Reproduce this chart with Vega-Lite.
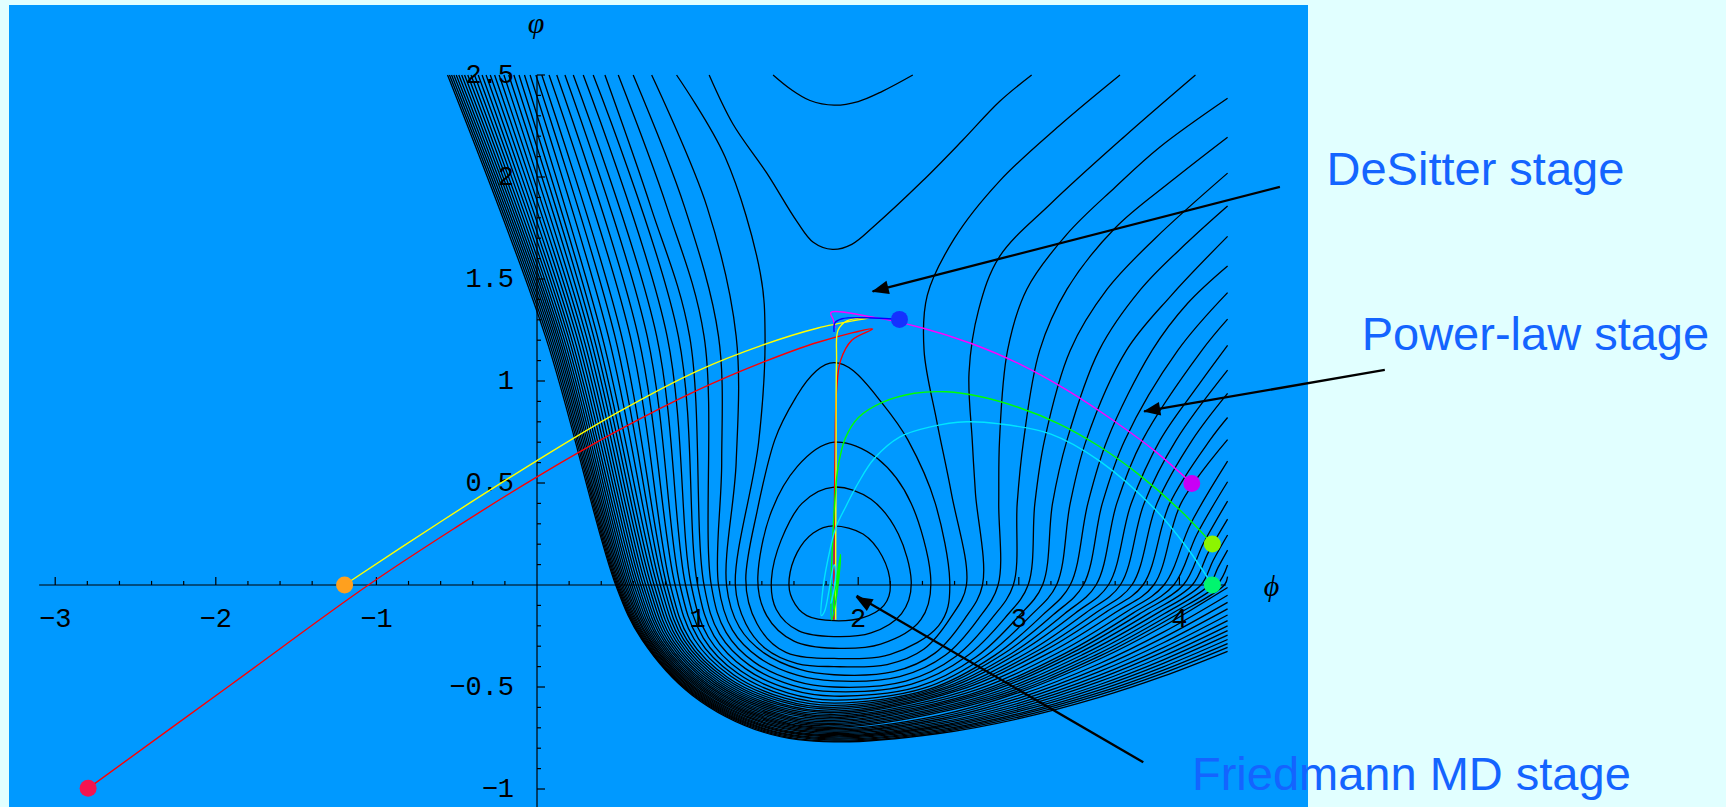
{
"$schema":"https://vega.github.io/schema/vega-lite/v6.json",
"autosize":{"type":"none"},
"padding":{"left":9,"top":5,"right":418,"bottom":0},
"width":1299,"height":802,
"background":"#e1ffff",
"config":{"view":{"stroke":null,"fill":"#0099ff"}},
"datasets":{
"w":[
{"g":1,"i":0,"x":0.869,"y":2.5},{"g":1,"i":1,"x":1.17,"y":2.1},{"g":1,"i":2,"x":1.39,"y":1.53},{"g":1,"i":3,"x":1.42,"y":1.22},{"g":1,"i":4,"x":1.38,"y":0.7},{"g":1,"i":5,"x":1.235,"y":0},{"g":1,"i":6,"x":1.3,"y":-0.19},{"g":1,"i":7,"x":1.42,"y":-0.31},{"g":1,"i":8,"x":1.62,"y":-0.385},{"g":1,"i":9,"x":1.85,"y":-0.4},{"g":1,"i":10,"x":2.18,"y":-0.39},{"g":1,"i":11,"x":2.41,"y":-0.314},{"g":1,"i":12,"x":2.575,"y":-0.16},{"g":1,"i":13,"x":2.674,"y":0},{"g":1,"i":14,"x":2.58,"y":0.45},{"g":1,"i":15,"x":2.49,"y":0.8},{"g":1,"i":16,"x":2.41,"y":1.15},{"g":1,"i":17,"x":2.43,"y":1.42},{"g":1,"i":18,"x":2.6,"y":1.7},{"g":1,"i":19,"x":2.88,"y":1.98},{"g":1,"i":20,"x":3.25,"y":2.25},{"g":1,"i":21,"x":3.63,"y":2.5},
{"g":2,"i":0,"x":0.714,"y":2.5},{"g":2,"i":1,"x":1.06,"y":1.85},{"g":2,"i":2,"x":1.24,"y":1.22},{"g":2,"i":3,"x":1.24,"y":0.6},{"g":2,"i":4,"x":1.18,"y":0},{"g":2,"i":5,"x":1.26,"y":-0.207},{"g":2,"i":6,"x":1.415,"y":-0.334},{"g":2,"i":7,"x":1.636,"y":-0.414},{"g":2,"i":8,"x":1.85,"y":-0.44},{"g":2,"i":9,"x":2.22,"y":-0.425},{"g":2,"i":10,"x":2.478,"y":-0.334},{"g":2,"i":11,"x":2.663,"y":-0.166},{"g":2,"i":12,"x":2.774,"y":0},{"g":2,"i":13,"x":2.73,"y":0.45},{"g":2,"i":14,"x":2.71,"y":0.71},{"g":2,"i":15,"x":2.69,"y":1.04},{"g":2,"i":16,"x":2.75,"y":1.35},{"g":2,"i":17,"x":2.88,"y":1.61},{"g":2,"i":18,"x":3.2,"y":1.87},{"g":2,"i":19,"x":3.66,"y":2.2},{"g":2,"i":20,"x":4.1,"y":2.5},
{"g":3,"i":0,"x":0.599,"y":2.5},{"g":3,"i":1,"x":0.92,"y":1.85},{"g":3,"i":2,"x":1.13,"y":1.22},{"g":3,"i":3,"x":1.15,"y":0.6},{"g":3,"i":4,"x":1.13,"y":0},{"g":3,"i":5,"x":1.216,"y":-0.22},{"g":3,"i":6,"x":1.382,"y":-0.356},{"g":3,"i":7,"x":1.62,"y":-0.442},{"g":3,"i":8,"x":1.85,"y":-0.47},{"g":3,"i":9,"x":2.258,"y":-0.449},{"g":3,"i":10,"x":2.544,"y":-0.343},{"g":3,"i":11,"x":2.748,"y":-0.166},{"g":3,"i":12,"x":2.871,"y":0},{"g":3,"i":13,"x":2.875,"y":0.4},{"g":3,"i":14,"x":2.88,"y":0.71},{"g":3,"i":15,"x":2.93,"y":1.15},{"g":3,"i":16,"x":3.05,"y":1.45},{"g":3,"i":17,"x":3.3,"y":1.72},{"g":3,"i":18,"x":3.6,"y":1.95},{"g":3,"i":19,"x":3.877,"y":2.146},{"g":3,"i":20,"x":4.3,"y":2.386},
{"g":4,"i":0,"x":0.506,"y":2.5},{"g":4,"i":1,"x":0.81,"y":1.85},{"g":4,"i":2,"x":1.04,"y":1.22},{"g":4,"i":3,"x":1.085,"y":0},{"g":4,"i":4,"x":1.177,"y":-0.232},{"g":4,"i":5,"x":1.353,"y":-0.378},{"g":4,"i":6,"x":1.605,"y":-0.47},{"g":4,"i":7,"x":1.85,"y":-0.5},{"g":4,"i":8,"x":2.296,"y":-0.471},{"g":4,"i":9,"x":2.609,"y":-0.349},{"g":4,"i":10,"x":2.832,"y":-0.164},{"g":4,"i":11,"x":2.966,"y":0},{"g":4,"i":12,"x":2.99,"y":0.4},{"g":4,"i":13,"x":3.03,"y":0.71},{"g":4,"i":14,"x":3.13,"y":1.15},{"g":4,"i":15,"x":3.3,"y":1.45},{"g":4,"i":16,"x":3.6,"y":1.75},{"g":4,"i":17,"x":3.95,"y":1.98},{"g":4,"i":18,"x":4.3,"y":2.195},
{"g":5,"i":0,"x":0.423,"y":2.5},{"g":5,"i":1,"x":0.71,"y":1.85},{"g":5,"i":2,"x":0.95,"y":1.22},{"g":5,"i":3,"x":1.04,"y":0},{"g":5,"i":4,"x":1.137,"y":-0.241},{"g":5,"i":5,"x":1.324,"y":-0.394},{"g":5,"i":6,"x":1.591,"y":-0.492},{"g":5,"i":7,"x":1.85,"y":-0.523},{"g":5,"i":8,"x":2.333,"y":-0.486},{"g":5,"i":9,"x":2.671,"y":-0.352},{"g":5,"i":10,"x":2.913,"y":-0.162},{"g":5,"i":11,"x":3.058,"y":0},{"g":5,"i":12,"x":3.1,"y":0.4},{"g":5,"i":13,"x":3.16,"y":0.71},{"g":5,"i":14,"x":3.32,"y":1.15},{"g":5,"i":15,"x":3.55,"y":1.45},{"g":5,"i":16,"x":3.85,"y":1.7},{"g":5,"i":17,"x":4.3,"y":2.019},
{"g":6,"i":0,"x":0.35,"y":2.5},{"g":6,"i":1,"x":0.88,"y":1.22},{"g":6,"i":2,"x":1.0,"y":0},{"g":6,"i":3,"x":1.102,"y":-0.249},{"g":6,"i":4,"x":1.298,"y":-0.41},{"g":6,"i":5,"x":1.578,"y":-0.512},{"g":6,"i":6,"x":1.85,"y":-0.545},{"g":6,"i":7,"x":2.369,"y":-0.499},{"g":6,"i":8,"x":2.733,"y":-0.353},{"g":6,"i":9,"x":2.992,"y":-0.159},{"g":6,"i":10,"x":3.148,"y":0},{"g":6,"i":11,"x":3.21,"y":0.4},{"g":6,"i":12,"x":3.3,"y":0.71},{"g":6,"i":13,"x":3.5,"y":1.15},{"g":6,"i":14,"x":3.76,"y":1.45},{"g":6,"i":15,"x":4.05,"y":1.68},{"g":6,"i":16,"x":4.3,"y":1.858},
{"g":7,"i":0,"x":0.288,"y":2.5},{"g":7,"i":1,"x":0.81,"y":1.22},{"g":7,"i":2,"x":0.96,"y":0},{"g":7,"i":3,"x":1.067,"y":-0.256},{"g":7,"i":4,"x":1.272,"y":-0.423},{"g":7,"i":5,"x":1.565,"y":-0.53},{"g":7,"i":6,"x":1.85,"y":-0.564},{"g":7,"i":7,"x":2.404,"y":-0.507},{"g":7,"i":8,"x":2.792,"y":-0.349},{"g":7,"i":9,"x":3.069,"y":-0.154},{"g":7,"i":10,"x":3.235,"y":0},{"g":7,"i":11,"x":3.32,"y":0.4},{"g":7,"i":12,"x":3.42,"y":0.71},{"g":7,"i":13,"x":3.67,"y":1.15},{"g":7,"i":14,"x":3.95,"y":1.42},{"g":7,"i":15,"x":4.3,"y":1.709},
{"g":8,"i":0,"x":0.226,"y":2.5},{"g":8,"i":1,"x":0.745,"y":1.22},{"g":8,"i":2,"x":0.925,"y":0},{"g":8,"i":3,"x":1.036,"y":-0.26},{"g":8,"i":4,"x":1.249,"y":-0.433},{"g":8,"i":5,"x":1.554,"y":-0.544},{"g":8,"i":6,"x":1.85,"y":-0.579},{"g":8,"i":7,"x":2.438,"y":-0.512},{"g":8,"i":8,"x":2.85,"y":-0.345},{"g":8,"i":9,"x":3.144,"y":-0.15},{"g":8,"i":10,"x":3.32,"y":0},{"g":8,"i":11,"x":3.43,"y":0.4},{"g":8,"i":12,"x":3.55,"y":0.71},{"g":8,"i":13,"x":3.83,"y":1.15},{"g":8,"i":14,"x":4.05,"y":1.38},{"g":8,"i":15,"x":4.3,"y":1.564},
{"g":9,"i":0,"x":0.174,"y":2.5},{"g":9,"i":1,"x":0.686,"y":1.22},{"g":9,"i":2,"x":0.89,"y":0},{"g":9,"i":3,"x":1.005,"y":-0.263},{"g":9,"i":4,"x":1.226,"y":-0.441},{"g":9,"i":5,"x":1.543,"y":-0.555},{"g":9,"i":6,"x":1.85,"y":-0.59},{"g":9,"i":7,"x":2.471,"y":-0.511},{"g":9,"i":8,"x":2.905,"y":-0.337},{"g":9,"i":9,"x":3.216,"y":-0.145},{"g":9,"i":10,"x":3.402,"y":0},{"g":9,"i":11,"x":3.52,"y":0.4},{"g":9,"i":12,"x":3.66,"y":0.71},{"g":9,"i":13,"x":3.99,"y":1.15},{"g":9,"i":14,"x":4.3,"y":1.433},
{"g":10,"i":0,"x":0.123,"y":2.5},{"g":10,"i":1,"x":0.63,"y":1.22},{"g":10,"i":2,"x":0.86,"y":0},{"g":10,"i":3,"x":0.979,"y":-0.266},{"g":10,"i":4,"x":1.207,"y":-0.447},{"g":10,"i":5,"x":1.533,"y":-0.564},{"g":10,"i":6,"x":1.85,"y":-0.6},{"g":10,"i":7,"x":2.502,"y":-0.512},{"g":10,"i":8,"x":2.959,"y":-0.333},{"g":10,"i":9,"x":3.285,"y":-0.141},{"g":10,"i":10,"x":3.481,"y":0},{"g":10,"i":11,"x":3.61,"y":0.4},{"g":10,"i":12,"x":3.77,"y":0.71},{"g":10,"i":13,"x":4.14,"y":1.15},{"g":10,"i":14,"x":4.3,"y":1.303},
{"g":11,"i":0,"x":0.075,"y":2.5},{"g":11,"i":1,"x":0.58,"y":1.22},{"g":11,"i":2,"x":0.83,"y":0},{"g":11,"i":3,"x":0.952,"y":-0.267},{"g":11,"i":4,"x":1.187,"y":-0.453},{"g":11,"i":5,"x":1.524,"y":-0.572},{"g":11,"i":6,"x":1.85,"y":-0.609},{"g":11,"i":7,"x":2.533,"y":-0.512},{"g":11,"i":8,"x":3.011,"y":-0.327},{"g":11,"i":9,"x":3.353,"y":-0.137},{"g":11,"i":10,"x":3.558,"y":0},{"g":11,"i":11,"x":3.7,"y":0.4},{"g":11,"i":12,"x":3.88,"y":0.71},{"g":11,"i":13,"x":4.1,"y":0.96},{"g":11,"i":14,"x":4.3,"y":1.175},
{"g":12,"i":0,"x":0.03,"y":2.5},{"g":12,"i":1,"x":0.527,"y":1.22},{"g":12,"i":2,"x":0.808,"y":0},{"g":12,"i":3,"x":0.933,"y":-0.269},{"g":12,"i":4,"x":1.173,"y":-0.458},{"g":12,"i":5,"x":1.517,"y":-0.581},{"g":12,"i":6,"x":1.85,"y":-0.618},{"g":12,"i":7,"x":2.563,"y":-0.514},{"g":12,"i":8,"x":3.062,"y":-0.327},{"g":12,"i":9,"x":3.418,"y":-0.136},{"g":12,"i":10,"x":3.632,"y":0},{"g":12,"i":11,"x":3.78,"y":0.4},{"g":12,"i":12,"x":3.98,"y":0.71},{"g":12,"i":13,"x":4.3,"y":1.053},
{"g":13,"i":0,"x":-0.007,"y":2.5},{"g":13,"i":1,"x":0.485,"y":1.22},{"g":13,"i":2,"x":0.787,"y":0},{"g":13,"i":3,"x":0.915,"y":-0.27},{"g":13,"i":4,"x":1.159,"y":-0.463},{"g":13,"i":5,"x":1.51,"y":-0.588},{"g":13,"i":6,"x":1.85,"y":-0.626},{"g":13,"i":7,"x":2.592,"y":-0.516},{"g":13,"i":8,"x":3.111,"y":-0.325},{"g":13,"i":9,"x":3.482,"y":-0.135},{"g":13,"i":10,"x":3.704,"y":0},{"g":13,"i":11,"x":3.86,"y":0.4},{"g":13,"i":12,"x":4.08,"y":0.71},{"g":13,"i":13,"x":4.3,"y":0.939},
{"g":14,"i":0,"x":-0.043,"y":2.5},{"g":14,"i":1,"x":0.444,"y":1.22},{"g":14,"i":2,"x":0.767,"y":0},{"g":14,"i":3,"x":0.897,"y":-0.271},{"g":14,"i":4,"x":1.146,"y":-0.468},{"g":14,"i":5,"x":1.503,"y":-0.596},{"g":14,"i":6,"x":1.85,"y":-0.634},{"g":14,"i":7,"x":2.619,"y":-0.518},{"g":14,"i":8,"x":3.158,"y":-0.323},{"g":14,"i":9,"x":3.542,"y":-0.133},{"g":14,"i":10,"x":3.773,"y":0},{"g":14,"i":11,"x":3.94,"y":0.4},{"g":14,"i":12,"x":4.19,"y":0.71},{"g":14,"i":13,"x":4.3,"y":0.821},
{"g":15,"i":0,"x":-0.078,"y":2.5},{"g":15,"i":1,"x":0.405,"y":1.22},{"g":15,"i":2,"x":0.748,"y":0},{"g":15,"i":3,"x":0.88,"y":-0.272},{"g":15,"i":4,"x":1.134,"y":-0.473},{"g":15,"i":5,"x":1.497,"y":-0.603},{"g":15,"i":6,"x":1.85,"y":-0.642},{"g":15,"i":7,"x":2.646,"y":-0.524},{"g":15,"i":8,"x":3.203,"y":-0.327},{"g":15,"i":9,"x":3.601,"y":-0.135},{"g":15,"i":10,"x":3.84,"y":0},{"g":15,"i":11,"x":4.01,"y":0.4},{"g":15,"i":12,"x":4.3,"y":0.713},
{"g":16,"i":0,"x":-0.112,"y":2.5},{"g":16,"i":1,"x":0.376,"y":1.22},{"g":16,"i":2,"x":0.729,"y":0},{"g":16,"i":3,"x":0.864,"y":-0.273},{"g":16,"i":4,"x":1.121,"y":-0.477},{"g":16,"i":5,"x":1.491,"y":-0.61},{"g":16,"i":6,"x":1.85,"y":-0.649},{"g":16,"i":7,"x":2.672,"y":-0.53},{"g":16,"i":8,"x":3.247,"y":-0.331},{"g":16,"i":9,"x":3.658,"y":-0.137},{"g":16,"i":10,"x":3.904,"y":0},{"g":16,"i":11,"x":4.07,"y":0.3},{"g":16,"i":12,"x":4.3,"y":0.607},
{"g":17,"i":0,"x":-0.144,"y":2.5},{"g":17,"i":1,"x":0.352,"y":1.22},{"g":17,"i":2,"x":0.711,"y":0},{"g":17,"i":3,"x":0.848,"y":-0.274},{"g":17,"i":4,"x":1.11,"y":-0.481},{"g":17,"i":5,"x":1.486,"y":-0.617},{"g":17,"i":6,"x":1.85,"y":-0.656},{"g":17,"i":7,"x":2.696,"y":-0.536},{"g":17,"i":8,"x":3.288,"y":-0.335},{"g":17,"i":9,"x":3.711,"y":-0.138},{"g":17,"i":10,"x":3.965,"y":0},{"g":17,"i":11,"x":4.11,"y":0.25},{"g":17,"i":12,"x":4.3,"y":0.506},
{"g":18,"i":0,"x":-0.176,"y":2.5},{"g":18,"i":1,"x":0.329,"y":1.22},{"g":18,"i":2,"x":0.694,"y":0},{"g":18,"i":3,"x":0.833,"y":-0.275},{"g":18,"i":4,"x":1.099,"y":-0.486},{"g":18,"i":5,"x":1.48,"y":-0.624},{"g":18,"i":6,"x":1.85,"y":-0.664},{"g":18,"i":7,"x":2.72,"y":-0.539},{"g":18,"i":8,"x":3.328,"y":-0.334},{"g":18,"i":9,"x":3.763,"y":-0.136},{"g":18,"i":10,"x":4.024,"y":0},{"g":18,"i":11,"x":4.15,"y":0.205},{"g":18,"i":12,"x":4.3,"y":0.411},
{"g":19,"i":0,"x":-0.206,"y":2.5},{"g":19,"i":1,"x":0.307,"y":1.22},{"g":19,"i":2,"x":0.677,"y":0},{"g":19,"i":3,"x":0.818,"y":-0.275},{"g":19,"i":4,"x":1.088,"y":-0.49},{"g":19,"i":5,"x":1.475,"y":-0.631},{"g":19,"i":6,"x":1.85,"y":-0.671},{"g":19,"i":7,"x":2.742,"y":-0.542},{"g":19,"i":8,"x":3.366,"y":-0.336},{"g":19,"i":9,"x":3.812,"y":-0.138},{"g":19,"i":10,"x":4.08,"y":0},{"g":19,"i":11,"x":4.18,"y":0.16},{"g":19,"i":12,"x":4.3,"y":0.323},
{"g":20,"i":0,"x":-0.236,"y":2.5},{"g":20,"i":1,"x":0.286,"y":1.22},{"g":20,"i":2,"x":0.661,"y":0},{"g":20,"i":3,"x":0.804,"y":-0.276},{"g":20,"i":4,"x":1.077,"y":-0.494},{"g":20,"i":5,"x":1.47,"y":-0.637},{"g":20,"i":6,"x":1.85,"y":-0.678},{"g":20,"i":7,"x":2.764,"y":-0.548},{"g":20,"i":8,"x":3.403,"y":-0.339},{"g":20,"i":9,"x":3.86,"y":-0.139},{"g":20,"i":10,"x":4.134,"y":0},{"g":20,"i":11,"x":4.21,"y":0.12},{"g":20,"i":12,"x":4.3,"y":0.245},
{"g":21,"i":0,"x":-0.264,"y":2.5},{"g":21,"i":1,"x":0.266,"y":1.22},{"g":21,"i":2,"x":0.646,"y":0},{"g":21,"i":3,"x":0.791,"y":-0.276},{"g":21,"i":4,"x":1.067,"y":-0.497},{"g":21,"i":5,"x":1.465,"y":-0.643},{"g":21,"i":6,"x":1.85,"y":-0.684},{"g":21,"i":7,"x":2.784,"y":-0.553},{"g":21,"i":8,"x":3.438,"y":-0.342},{"g":21,"i":9,"x":3.905,"y":-0.141},{"g":21,"i":10,"x":4.185,"y":0},{"g":21,"i":11,"x":4.24,"y":0.085},{"g":21,"i":12,"x":4.3,"y":0.171},
{"g":22,"i":0,"x":-0.291,"y":2.5},{"g":22,"i":1,"x":0.247,"y":1.22},{"g":22,"i":2,"x":0.631,"y":0},{"g":22,"i":3,"x":0.777,"y":-0.276},{"g":22,"i":4,"x":1.058,"y":-0.501},{"g":22,"i":5,"x":1.46,"y":-0.65},{"g":22,"i":6,"x":1.85,"y":-0.691},{"g":22,"i":7,"x":2.804,"y":-0.558},{"g":22,"i":8,"x":3.471,"y":-0.346},{"g":22,"i":9,"x":3.948,"y":-0.142},{"g":22,"i":10,"x":4.234,"y":0},{"g":22,"i":11,"x":4.3,"y":0.098},
{"g":23,"i":0,"x":-0.317,"y":2.5},{"g":23,"i":1,"x":0.228,"y":1.22},{"g":23,"i":2,"x":0.617,"y":0},{"g":23,"i":3,"x":0.765,"y":-0.276},{"g":23,"i":4,"x":1.049,"y":-0.505},{"g":23,"i":5,"x":1.455,"y":-0.656},{"g":23,"i":6,"x":1.85,"y":-0.698},{"g":23,"i":7,"x":2.822,"y":-0.563},{"g":23,"i":8,"x":3.502,"y":-0.349},{"g":23,"i":9,"x":3.988,"y":-0.143},{"g":23,"i":10,"x":4.28,"y":0},{"g":23,"i":11,"x":4.3,"y":0.041},
{"g":24,"i":0,"x":-0.342,"y":2.5},{"g":24,"i":1,"x":0.21,"y":1.22},{"g":24,"i":2,"x":0.603,"y":0},{"g":24,"i":3,"x":0.753,"y":-0.276},{"g":24,"i":4,"x":1.04,"y":-0.508},{"g":24,"i":5,"x":1.451,"y":-0.662},{"g":24,"i":6,"x":1.85,"y":-0.704},{"g":24,"i":7,"x":2.5,"y":-0.64},{"g":24,"i":8,"x":3.0,"y":-0.527},{"g":24,"i":9,"x":3.5,"y":-0.364},{"g":24,"i":10,"x":3.9,"y":-0.202},{"g":24,"i":11,"x":4.3,"y":-0.012},
{"g":25,"i":0,"x":-0.366,"y":2.5},{"g":25,"i":1,"x":0.194,"y":1.22},{"g":25,"i":2,"x":0.59,"y":0},{"g":25,"i":3,"x":0.741,"y":-0.276},{"g":25,"i":4,"x":1.031,"y":-0.511},{"g":25,"i":5,"x":1.447,"y":-0.667},{"g":25,"i":6,"x":1.85,"y":-0.71},{"g":25,"i":7,"x":2.5,"y":-0.649},{"g":25,"i":8,"x":3.0,"y":-0.541},{"g":25,"i":9,"x":3.5,"y":-0.386},{"g":25,"i":10,"x":3.9,"y":-0.231},{"g":25,"i":11,"x":4.3,"y":-0.05},
{"g":26,"i":0,"x":-0.389,"y":2.5},{"g":26,"i":1,"x":0.178,"y":1.22},{"g":26,"i":2,"x":0.578,"y":0},{"g":26,"i":3,"x":0.731,"y":-0.276},{"g":26,"i":4,"x":1.023,"y":-0.514},{"g":26,"i":5,"x":1.443,"y":-0.673},{"g":26,"i":6,"x":1.85,"y":-0.716},{"g":26,"i":7,"x":2.5,"y":-0.658},{"g":26,"i":8,"x":3.0,"y":-0.554},{"g":26,"i":9,"x":3.5,"y":-0.406},{"g":26,"i":10,"x":3.9,"y":-0.258},{"g":26,"i":11,"x":4.3,"y":-0.085},
{"g":27,"i":0,"x":-0.411,"y":2.5},{"g":27,"i":1,"x":0.163,"y":1.22},{"g":27,"i":2,"x":0.566,"y":0},{"g":27,"i":3,"x":0.72,"y":-0.275},{"g":27,"i":4,"x":1.015,"y":-0.518},{"g":27,"i":5,"x":1.439,"y":-0.679},{"g":27,"i":6,"x":1.85,"y":-0.722},{"g":27,"i":7,"x":2.5,"y":-0.666},{"g":27,"i":8,"x":3.0,"y":-0.567},{"g":27,"i":9,"x":3.5,"y":-0.425},{"g":27,"i":10,"x":3.9,"y":-0.283},{"g":27,"i":11,"x":4.3,"y":-0.117},
{"g":28,"i":0,"x":-0.431,"y":2.5},{"g":28,"i":1,"x":0.149,"y":1.22},{"g":28,"i":2,"x":0.555,"y":0},{"g":28,"i":3,"x":0.71,"y":-0.275},{"g":28,"i":4,"x":1.008,"y":-0.521},{"g":28,"i":5,"x":1.436,"y":-0.684},{"g":28,"i":6,"x":1.85,"y":-0.728},{"g":28,"i":7,"x":2.5,"y":-0.675},{"g":28,"i":8,"x":3.0,"y":-0.579},{"g":28,"i":9,"x":3.5,"y":-0.443},{"g":28,"i":10,"x":3.9,"y":-0.307},{"g":28,"i":11,"x":4.3,"y":-0.147},
{"g":29,"i":0,"x":-0.451,"y":2.5},{"g":29,"i":1,"x":0.136,"y":1.22},{"g":29,"i":2,"x":0.545,"y":0},{"g":29,"i":3,"x":0.702,"y":-0.274},{"g":29,"i":4,"x":1.002,"y":-0.523},{"g":29,"i":5,"x":1.432,"y":-0.69},{"g":29,"i":6,"x":1.85,"y":-0.734},{"g":29,"i":7,"x":2.5,"y":-0.682},{"g":29,"i":8,"x":3.0,"y":-0.59},{"g":29,"i":9,"x":3.5,"y":-0.459},{"g":29,"i":10,"x":3.9,"y":-0.328},{"g":29,"i":11,"x":4.3,"y":-0.175},
{"g":30,"i":0,"x":-0.469,"y":2.5},{"g":30,"i":1,"x":0.124,"y":1.22},{"g":30,"i":2,"x":0.535,"y":0},{"g":30,"i":3,"x":0.693,"y":-0.274},{"g":30,"i":4,"x":0.995,"y":-0.526},{"g":30,"i":5,"x":1.429,"y":-0.695},{"g":30,"i":6,"x":1.85,"y":-0.739},{"g":30,"i":7,"x":2.5,"y":-0.69},{"g":30,"i":8,"x":3.0,"y":-0.601},{"g":30,"i":9,"x":3.5,"y":-0.474},{"g":30,"i":10,"x":3.9,"y":-0.348},{"g":30,"i":11,"x":4.3,"y":-0.2},
{"g":31,"i":0,"x":-0.487,"y":2.5},{"g":31,"i":1,"x":0.112,"y":1.22},{"g":31,"i":2,"x":0.526,"y":0},{"g":31,"i":3,"x":0.685,"y":-0.273},{"g":31,"i":4,"x":0.989,"y":-0.528},{"g":31,"i":5,"x":1.426,"y":-0.699},{"g":31,"i":6,"x":1.85,"y":-0.744},{"g":31,"i":7,"x":2.5,"y":-0.696},{"g":31,"i":8,"x":3.0,"y":-0.611},{"g":31,"i":9,"x":3.5,"y":-0.489},{"g":31,"i":10,"x":3.9,"y":-0.367},{"g":31,"i":11,"x":4.3,"y":-0.224},
{"g":32,"i":0,"x":-0.503,"y":2.5},{"g":32,"i":1,"x":0.1,"y":1.22},{"g":32,"i":2,"x":0.517,"y":0},{"g":32,"i":3,"x":0.677,"y":-0.272},{"g":32,"i":4,"x":0.984,"y":-0.531},{"g":32,"i":5,"x":1.423,"y":-0.705},{"g":32,"i":6,"x":1.85,"y":-0.75},{"g":32,"i":7,"x":2.5,"y":-0.703},{"g":32,"i":8,"x":3.0,"y":-0.62},{"g":32,"i":9,"x":3.5,"y":-0.502},{"g":32,"i":10,"x":3.9,"y":-0.384},{"g":32,"i":11,"x":4.3,"y":-0.246},
{"g":33,"i":0,"x":-0.518,"y":2.5},{"g":33,"i":1,"x":0.088,"y":1.22},{"g":33,"i":2,"x":0.509,"y":0},{"g":33,"i":3,"x":0.67,"y":-0.271},{"g":33,"i":4,"x":0.978,"y":-0.533},{"g":33,"i":5,"x":1.421,"y":-0.709},{"g":33,"i":6,"x":1.85,"y":-0.755},{"g":33,"i":7,"x":2.5,"y":-0.71},{"g":33,"i":8,"x":3.0,"y":-0.63},{"g":33,"i":9,"x":3.5,"y":-0.515},{"g":33,"i":10,"x":3.9,"y":-0.401},{"g":33,"i":11,"x":4.3,"y":-0.267},
{"g":34,"i":0,"x":-0.532,"y":2.5},{"g":34,"i":1,"x":0.076,"y":1.22},{"g":34,"i":2,"x":0.502,"y":0},{"g":34,"i":3,"x":0.664,"y":-0.271},{"g":34,"i":4,"x":0.974,"y":-0.536},{"g":34,"i":5,"x":1.419,"y":-0.714},{"g":34,"i":6,"x":1.85,"y":-0.76},{"g":34,"i":7,"x":2.5,"y":-0.716},{"g":34,"i":8,"x":3.0,"y":-0.638},{"g":34,"i":9,"x":3.5,"y":-0.528},{"g":34,"i":10,"x":3.9,"y":-0.417},{"g":34,"i":11,"x":4.3,"y":-0.287},
{"g":35,"i":0,"x":-0.545,"y":2.5},{"g":35,"i":1,"x":0.064,"y":1.22},{"g":35,"i":2,"x":0.496,"y":0},{"g":35,"i":3,"x":0.659,"y":-0.27},{"g":35,"i":4,"x":0.97,"y":-0.538},{"g":35,"i":5,"x":1.417,"y":-0.719},{"g":35,"i":6,"x":1.85,"y":-0.765},{"g":35,"i":7,"x":2.5,"y":-0.722},{"g":35,"i":8,"x":3.0,"y":-0.647},{"g":35,"i":9,"x":3.5,"y":-0.539},{"g":35,"i":10,"x":3.9,"y":-0.432},{"g":35,"i":11,"x":4.3,"y":-0.306},
{"g":36,"i":0,"x":-0.557,"y":2.5},{"g":36,"i":1,"x":0.052,"y":1.22},{"g":36,"i":2,"x":0.49,"y":0},{"g":36,"i":3,"x":0.653,"y":-0.268},{"g":36,"i":4,"x":0.966,"y":-0.54},{"g":36,"i":5,"x":1.415,"y":-0.723},{"g":36,"i":6,"x":1.85,"y":-0.769},{"g":36,"i":7,"x":2.5,"y":-0.728},{"g":36,"i":8,"x":3.0,"y":-0.655},{"g":36,"i":9,"x":3.5,"y":-0.551},{"g":36,"i":10,"x":3.9,"y":-0.447},{"g":36,"i":11,"x":4.3,"y":-0.325},
{"g":50,"i":0,"x":1.072,"y":2.5},{"g":50,"i":1,"x":1.22,"y":2.26},{"g":50,"i":2,"x":1.43,"y":2.02},{"g":50,"i":3,"x":1.62,"y":1.78},{"g":50,"i":4,"x":1.72,"y":1.68},{"g":50,"i":5,"x":1.84,"y":1.645},{"g":50,"i":6,"x":1.96,"y":1.67},{"g":50,"i":7,"x":2.1,"y":1.76},{"g":50,"i":8,"x":2.4,"y":1.98},{"g":50,"i":9,"x":2.65,"y":2.18},{"g":50,"i":10,"x":2.88,"y":2.37},{"g":50,"i":11,"x":3.08,"y":2.5},
{"g":51,"i":0,"x":1.47,"y":2.5},{"g":51,"i":1,"x":1.58,"y":2.43},{"g":51,"i":2,"x":1.7,"y":2.375},{"g":51,"i":3,"x":1.85,"y":2.352},{"g":51,"i":4,"x":2.0,"y":2.37},{"g":51,"i":5,"x":2.15,"y":2.42},{"g":51,"i":6,"x":2.34,"y":2.5}
],
"o":[
{"g":41,"i":0,"x":1.85,"y":0.29},{"g":41,"i":1,"x":2.03,"y":0.25},{"g":41,"i":2,"x":2.15,"y":0.14},{"g":41,"i":3,"x":2.2,"y":0.0},{"g":41,"i":4,"x":2.16,"y":-0.1},{"g":41,"i":5,"x":2.03,"y":-0.16},{"g":41,"i":6,"x":1.85,"y":-0.175},{"g":41,"i":7,"x":1.68,"y":-0.15},{"g":41,"i":8,"x":1.59,"y":-0.07},{"g":41,"i":9,"x":1.57,"y":0.03},{"g":41,"i":10,"x":1.62,"y":0.16},{"g":41,"i":11,"x":1.72,"y":0.255},
{"g":42,"i":0,"x":1.85,"y":0.48},{"g":42,"i":1,"x":2.08,"y":0.42},{"g":42,"i":2,"x":2.25,"y":0.25},{"g":42,"i":3,"x":2.33,"y":0.02},{"g":42,"i":4,"x":2.27,"y":-0.14},{"g":42,"i":5,"x":2.08,"y":-0.235},{"g":42,"i":6,"x":1.85,"y":-0.253},{"g":42,"i":7,"x":1.63,"y":-0.225},{"g":42,"i":8,"x":1.49,"y":-0.12},{"g":42,"i":9,"x":1.46,"y":0.03},{"g":42,"i":10,"x":1.52,"y":0.22},{"g":42,"i":11,"x":1.65,"y":0.4},
{"g":43,"i":0,"x":1.85,"y":0.7},{"g":43,"i":1,"x":2.12,"y":0.62},{"g":43,"i":2,"x":2.33,"y":0.4},{"g":43,"i":3,"x":2.45,"y":0.05},{"g":43,"i":4,"x":2.39,"y":-0.17},{"g":43,"i":5,"x":2.14,"y":-0.29},{"g":43,"i":6,"x":1.85,"y":-0.31},{"g":43,"i":7,"x":1.6,"y":-0.275},{"g":43,"i":8,"x":1.43,"y":-0.15},{"g":43,"i":9,"x":1.375,"y":0.04},{"g":43,"i":10,"x":1.45,"y":0.34},{"g":43,"i":11,"x":1.62,"y":0.58},
{"g":44,"i":0,"x":1.85,"y":1.09},{"g":44,"i":1,"x":1.97,"y":1.05},{"g":44,"i":2,"x":2.12,"y":0.92},{"g":44,"i":3,"x":2.31,"y":0.71},{"g":44,"i":4,"x":2.48,"y":0.4},{"g":44,"i":5,"x":2.57,"y":0.02},{"g":44,"i":6,"x":2.5,"y":-0.2},{"g":44,"i":7,"x":2.2,"y":-0.34},{"g":44,"i":8,"x":1.85,"y":-0.36},{"g":44,"i":9,"x":1.55,"y":-0.33},{"g":44,"i":10,"x":1.37,"y":-0.19},{"g":44,"i":11,"x":1.3,"y":0.03},{"g":44,"i":12,"x":1.37,"y":0.36},{"g":44,"i":13,"x":1.48,"y":0.71},{"g":44,"i":14,"x":1.62,"y":0.93},{"g":44,"i":15,"x":1.74,"y":1.05}
],
"ax":[
{"x":-3.1,"y":0,"x2":4.29,"y2":0},{"x":0,"y":-1.0882,"x2":0,"y2":2.5},
{"x":-3,"y":0,"x2":-3,"y2":0.039},{"x":-2.8,"y":0,"x2":-2.8,"y2":0.02},{"x":-2.6,"y":0,"x2":-2.6,"y2":0.02},{"x":-2.4,"y":0,"x2":-2.4,"y2":0.02},{"x":-2.2,"y":0,"x2":-2.2,"y2":0.02},
{"x":-2,"y":0,"x2":-2,"y2":0.039},{"x":-1.8,"y":0,"x2":-1.8,"y2":0.02},{"x":-1.6,"y":0,"x2":-1.6,"y2":0.02},{"x":-1.4,"y":0,"x2":-1.4,"y2":0.02},{"x":-1.2,"y":0,"x2":-1.2,"y2":0.02},
{"x":-1,"y":0,"x2":-1,"y2":0.039},{"x":-0.8,"y":0,"x2":-0.8,"y2":0.02},{"x":-0.6,"y":0,"x2":-0.6,"y2":0.02},{"x":-0.4,"y":0,"x2":-0.4,"y2":0.02},{"x":-0.2,"y":0,"x2":-0.2,"y2":0.02},
{"x":0.2,"y":0,"x2":0.2,"y2":0.02},{"x":0.4,"y":0,"x2":0.4,"y2":0.02},{"x":0.6,"y":0,"x2":0.6,"y2":0.02},{"x":0.8,"y":0,"x2":0.8,"y2":0.02},
{"x":1,"y":0,"x2":1,"y2":0.039},{"x":1.2,"y":0,"x2":1.2,"y2":0.02},{"x":1.4,"y":0,"x2":1.4,"y2":0.02},{"x":1.6,"y":0,"x2":1.6,"y2":0.02},{"x":1.8,"y":0,"x2":1.8,"y2":0.02},
{"x":2,"y":0,"x2":2,"y2":0.039},{"x":2.2,"y":0,"x2":2.2,"y2":0.02},{"x":2.4,"y":0,"x2":2.4,"y2":0.02},{"x":2.6,"y":0,"x2":2.6,"y2":0.02},{"x":2.8,"y":0,"x2":2.8,"y2":0.02},
{"x":3,"y":0,"x2":3,"y2":0.039},{"x":3.2,"y":0,"x2":3.2,"y2":0.02},{"x":3.4,"y":0,"x2":3.4,"y2":0.02},{"x":3.6,"y":0,"x2":3.6,"y2":0.02},{"x":3.8,"y":0,"x2":3.8,"y2":0.02},
{"x":4,"y":0,"x2":4,"y2":0.039},{"x":4.2,"y":0,"x2":4.2,"y2":0.02},
{"x":0,"y":-1,"x2":0.05,"y2":-1},{"x":0,"y":-0.9,"x2":0.025,"y2":-0.9},{"x":0,"y":-0.8,"x2":0.025,"y2":-0.8},{"x":0,"y":-0.7,"x2":0.025,"y2":-0.7},{"x":0,"y":-0.6,"x2":0.025,"y2":-0.6},
{"x":0,"y":-0.5,"x2":0.05,"y2":-0.5},{"x":0,"y":-0.4,"x2":0.025,"y2":-0.4},{"x":0,"y":-0.3,"x2":0.025,"y2":-0.3},{"x":0,"y":-0.2,"x2":0.025,"y2":-0.2},{"x":0,"y":-0.1,"x2":0.025,"y2":-0.1},
{"x":0,"y":0.1,"x2":0.025,"y2":0.1},{"x":0,"y":0.2,"x2":0.025,"y2":0.2},{"x":0,"y":0.3,"x2":0.025,"y2":0.3},{"x":0,"y":0.4,"x2":0.025,"y2":0.4},
{"x":0,"y":0.5,"x2":0.05,"y2":0.5},{"x":0,"y":0.6,"x2":0.025,"y2":0.6},{"x":0,"y":0.7,"x2":0.025,"y2":0.7},{"x":0,"y":0.8,"x2":0.025,"y2":0.8},{"x":0,"y":0.9,"x2":0.025,"y2":0.9},
{"x":0,"y":1,"x2":0.05,"y2":1},{"x":0,"y":1.1,"x2":0.025,"y2":1.1},{"x":0,"y":1.2,"x2":0.025,"y2":1.2},{"x":0,"y":1.3,"x2":0.025,"y2":1.3},{"x":0,"y":1.4,"x2":0.025,"y2":1.4},
{"x":0,"y":1.5,"x2":0.05,"y2":1.5},{"x":0,"y":1.6,"x2":0.025,"y2":1.6},{"x":0,"y":1.7,"x2":0.025,"y2":1.7},{"x":0,"y":1.8,"x2":0.025,"y2":1.8},{"x":0,"y":1.9,"x2":0.025,"y2":1.9},
{"x":0,"y":2,"x2":0.05,"y2":2},{"x":0,"y":2.1,"x2":0.025,"y2":2.1},{"x":0,"y":2.2,"x2":0.025,"y2":2.2},{"x":0,"y":2.3,"x2":0.025,"y2":2.3},{"x":0,"y":2.4,"x2":0.025,"y2":2.4},
{"x":0,"y":2.5,"x2":0.05,"y2":2.5}
],
"xl":[
{"x":-3,"y":-0.165,"t":"−3"},{"x":-2,"y":-0.165,"t":"−2"},{"x":-1,"y":-0.165,"t":"−1"},{"x":1,"y":-0.165,"t":"1"},{"x":2,"y":-0.165,"t":"2"},{"x":3,"y":-0.165,"t":"3"},{"x":4,"y":-0.165,"t":"4"}
],
"yl":[
{"x":-0.143,"y":-1,"t":"−1"},{"x":-0.143,"y":-0.5,"t":"−0.5"},{"x":-0.143,"y":0.5,"t":"0.5"},{"x":-0.143,"y":1,"t":"1"},{"x":-0.143,"y":1.5,"t":"1.5"},{"x":-0.143,"y":2,"t":"2"},{"x":-0.143,"y":2.5,"t":"2.5"}
],
"at":[
{"x":4.573,"y":-0.008,"t":"ϕ"},{"x":-0.006,"y":2.749,"t":"φ"}
],
"tr":[
{"g":"r","i":0,"x":-2.795,"y":-0.997},{"g":"r","i":1,"x":-1.9,"y":-0.485},{"g":"r","i":2,"x":-1.05,"y":0.0},{"g":"r","i":3,"x":-0.5,"y":0.285},{"g":"r","i":4,"x":0,"y":0.53},{"g":"r","i":5,"x":0.5,"y":0.755},{"g":"r","i":6,"x":1.0,"y":0.955},{"g":"r","i":7,"x":1.4,"y":1.09},{"g":"r","i":8,"x":1.75,"y":1.19},{"g":"r","i":9,"x":2.09,"y":1.255},{"g":"r","i":10,"x":1.96,"y":1.2},{"g":"r","i":11,"x":1.89,"y":1.1},{"g":"r","i":12,"x":1.865,"y":0.95},{"g":"r","i":13,"x":1.855,"y":0.6},{"g":"r","i":14,"x":1.85,"y":0.2},{"g":"r","i":15,"x":1.848,"y":-0.17},
{"g":"y","i":0,"x":-1.199,"y":0},{"g":"y","i":1,"x":-0.6,"y":0.31},{"g":"y","i":2,"x":0,"y":0.61},{"g":"y","i":3,"x":0.5,"y":0.845},{"g":"y","i":4,"x":1.0,"y":1.05},{"g":"y","i":5,"x":1.4,"y":1.175},{"g":"y","i":6,"x":1.75,"y":1.26},{"g":"y","i":7,"x":2.07,"y":1.31},{"g":"y","i":8,"x":1.93,"y":1.295},{"g":"y","i":9,"x":1.875,"y":1.25},{"g":"y","i":10,"x":1.865,"y":1.1},{"g":"y","i":11,"x":1.862,"y":0.6},{"g":"y","i":12,"x":1.86,"y":0.2},{"g":"y","i":13,"x":1.86,"y":-0.17},
{"g":"m","i":0,"x":4.077,"y":0.498},{"g":"m","i":1,"x":3.85,"y":0.655},{"g":"m","i":2,"x":3.6,"y":0.8},{"g":"m","i":3,"x":3.3,"y":0.955},{"g":"m","i":4,"x":3.0,"y":1.085},{"g":"m","i":5,"x":2.7,"y":1.185},{"g":"m","i":6,"x":2.4,"y":1.26},{"g":"m","i":7,"x":2.1,"y":1.312},{"g":"m","i":8,"x":1.83,"y":1.335},{"g":"m","i":9,"x":1.845,"y":1.3},{"g":"m","i":10,"x":1.855,"y":1.26},
{"g":"b","i":0,"x":2.257,"y":1.302},{"g":"b","i":1,"x":2.05,"y":1.31},{"g":"b","i":2,"x":1.9,"y":1.305},{"g":"b","i":3,"x":1.855,"y":1.285},{"g":"b","i":4,"x":1.85,"y":1.24},
{"g":"g","i":0,"x":4.205,"y":0.201},{"g":"g","i":1,"x":4.0,"y":0.37},{"g":"g","i":2,"x":3.75,"y":0.54},{"g":"g","i":3,"x":3.5,"y":0.68},{"g":"g","i":4,"x":3.25,"y":0.79},{"g":"g","i":5,"x":3.0,"y":0.87},{"g":"g","i":6,"x":2.75,"y":0.925},{"g":"g","i":7,"x":2.55,"y":0.947},{"g":"g","i":8,"x":2.35,"y":0.94},{"g":"g","i":9,"x":2.15,"y":0.895},{"g":"g","i":10,"x":2.0,"y":0.82},{"g":"g","i":11,"x":1.92,"y":0.72},{"g":"g","i":12,"x":1.875,"y":0.58},{"g":"g","i":13,"x":1.855,"y":0.42},{"g":"g","i":14,"x":1.84,"y":0.2},{"g":"g","i":15,"x":1.83,"y":-0.02},{"g":"g","i":16,"x":1.835,"y":-0.17},{"g":"g","i":17,"x":1.86,"y":-0.08},{"g":"g","i":18,"x":1.885,"y":0.08},{"g":"g","i":19,"x":1.89,"y":0.15},{"g":"g","i":20,"x":1.87,"y":0.05},{"g":"g","i":21,"x":1.845,"y":-0.1},{"g":"g","i":22,"x":1.85,"y":-0.12},{"g":"g","i":23,"x":1.87,"y":0.0},{"g":"g","i":24,"x":1.875,"y":0.08},{"g":"g","i":25,"x":1.86,"y":0.02},
{"g":"c","i":0,"x":4.205,"y":0.0},{"g":"c","i":1,"x":4.05,"y":0.18},{"g":"c","i":2,"x":3.85,"y":0.37},{"g":"c","i":3,"x":3.5,"y":0.61},{"g":"c","i":4,"x":3.2,"y":0.74},{"g":"c","i":5,"x":2.88,"y":0.79},{"g":"c","i":6,"x":2.674,"y":0.8},{"g":"c","i":7,"x":2.45,"y":0.775},{"g":"c","i":8,"x":2.26,"y":0.726},{"g":"c","i":9,"x":2.1,"y":0.62},{"g":"c","i":10,"x":2.0,"y":0.5},{"g":"c","i":11,"x":1.92,"y":0.38},{"g":"c","i":12,"x":1.86,"y":0.28},{"g":"c","i":13,"x":1.81,"y":0.12},{"g":"c","i":14,"x":1.78,"y":-0.02},{"g":"c","i":15,"x":1.77,"y":-0.15},{"g":"c","i":16,"x":1.79,"y":-0.13},{"g":"c","i":17,"x":1.82,"y":-0.02},{"g":"c","i":18,"x":1.85,"y":0.1},{"g":"c","i":19,"x":1.86,"y":0.06},{"g":"c","i":20,"x":1.84,"y":-0.06},{"g":"c","i":21,"x":1.83,"y":-0.09},{"g":"c","i":22,"x":1.85,"y":-0.02},{"g":"c","i":23,"x":1.86,"y":0.03},{"g":"c","i":24,"x":1.85,"y":0.0}
],
"dt":[
{"g":"d1","x":-2.795,"y":-0.996},{"g":"d2","x":-1.198,"y":0.0},{"g":"d3","x":2.257,"y":1.302},{"g":"d4","x":4.077,"y":0.498},{"g":"d5","x":4.205,"y":0.201},{"g":"d6","x":4.205,"y":0.0}
],
"ar":[
{"x":4.626,"y":1.952,"x2":2.09,"y2":1.439},{"x":5.279,"y":1.054,"x2":3.78,"y2":0.851},{"x":3.775,"y":-0.869,"x2":1.99,"y2":-0.053}
],
"ah":[
{"k":1,"x":2.084,"y":1.438},{"k":2,"x":3.775,"y":0.85},{"k":3,"x":1.983,"y":-0.057}
],
"nt":[
{"x":4.916,"y":1.961,"t":"DeSitter stage"},{"x":5.135,"y":1.152,"t":"Power-law stage"},{"x":4.078,"y":-1.005,"t":"Friedmann MD stage"}
]
},
"encoding":{
"x":{"field":"x","type":"quantitative","scale":{"domain":[-3.2877,4.8007],"nice":false,"zero":false},"axis":null},
"y":{"field":"y","type":"quantitative","scale":{"domain":[-1.0882,2.8431],"nice":false,"zero":false},"axis":null}
},
"layer":[
{"data":{"name":"w"},"mark":{"type":"line","interpolate":"catmull-rom","stroke":"#000000","strokeWidth":1.3},"encoding":{"detail":{"field":"g","type":"nominal"},"order":{"field":"i","type":"quantitative"}}},
{"data":{"name":"o"},"mark":{"type":"line","interpolate":"cardinal-closed","tension":0,"stroke":"#000000","strokeWidth":1.3},"encoding":{"detail":{"field":"g","type":"nominal"},"order":{"field":"i","type":"quantitative"}}},
{"data":{"name":"ax"},"mark":{"type":"rule","stroke":"#000000","strokeWidth":1.2},"encoding":{"x2":{"field":"x2"},"y2":{"field":"y2"}}},
{"data":{"name":"xl"},"mark":{"type":"text","font":"Liberation Mono","fontSize":27,"align":"center","baseline":"middle","fill":"#000000"},"encoding":{"text":{"field":"t","type":"nominal"}}},
{"data":{"name":"yl"},"mark":{"type":"text","font":"Liberation Mono","fontSize":27,"align":"right","baseline":"middle","fill":"#000000"},"encoding":{"text":{"field":"t","type":"nominal"}}},
{"data":{"name":"at"},"mark":{"type":"text","font":"Liberation Serif","fontStyle":"italic","fontSize":30,"align":"center","baseline":"middle","fill":"#000000"},"encoding":{"text":{"field":"t","type":"nominal"}}},
{"data":{"name":"tr"},"mark":{"type":"line","interpolate":"catmull-rom","strokeWidth":1.4},"encoding":{"detail":{"field":"g","type":"nominal"},"order":{"field":"i","type":"quantitative"},"color":{"field":"g","type":"nominal","legend":null,"scale":{"domain":["r","y","m","b","g","c","d1","d2","d3","d4","d5","d6"],"range":["#ff0000","#ffff00","#ff00ff","#0000ff","#00ff00","#00e5ff","#f51450","#ffa01e","#1432ff","#c800f5","#8cf500","#00f56e"]}}}},
{"data":{"name":"dt"},"mark":{"type":"point","filled":true,"size":290,"opacity":1,"strokeWidth":0},"encoding":{"color":{"field":"g","type":"nominal","legend":null,"scale":{"domain":["r","y","m","b","g","c","d1","d2","d3","d4","d5","d6"],"range":["#ff0000","#ffff00","#ff00ff","#0000ff","#00ff00","#00e5ff","#f51450","#ffa01e","#1432ff","#c800f5","#8cf500","#00f56e"]}}}},
{"data":{"name":"ar"},"mark":{"type":"rule","stroke":"#000000","strokeWidth":2.3},"encoding":{"x2":{"field":"x2"},"y2":{"field":"y2"}}},
{"data":{"name":"ah"},"transform":[{"filter":"datum.k == 1"}],"mark":{"type":"point","shape":"M0,0L-1,-0.4L-1,0.4Z","size":1156,"filled":true,"fill":"#000000","opacity":1,"strokeWidth":0,"angle":165.6}},
{"data":{"name":"ah"},"transform":[{"filter":"datum.k == 2"}],"mark":{"type":"point","shape":"M0,0L-1,-0.4L-1,0.4Z","size":1156,"filled":true,"fill":"#000000","opacity":1,"strokeWidth":0,"angle":170.2}},
{"data":{"name":"ah"},"transform":[{"filter":"datum.k == 3"}],"mark":{"type":"point","shape":"M0,0L-1,-0.4L-1,0.4Z","size":1156,"filled":true,"fill":"#000000","opacity":1,"strokeWidth":0,"angle":209.9}},
{"data":{"name":"nt"},"mark":{"type":"text","font":"Liberation Sans","fontSize":47,"align":"left","baseline":"alphabetic","fill":"#1464ff"},"encoding":{"text":{"field":"t","type":"nominal"}}}
]
}
